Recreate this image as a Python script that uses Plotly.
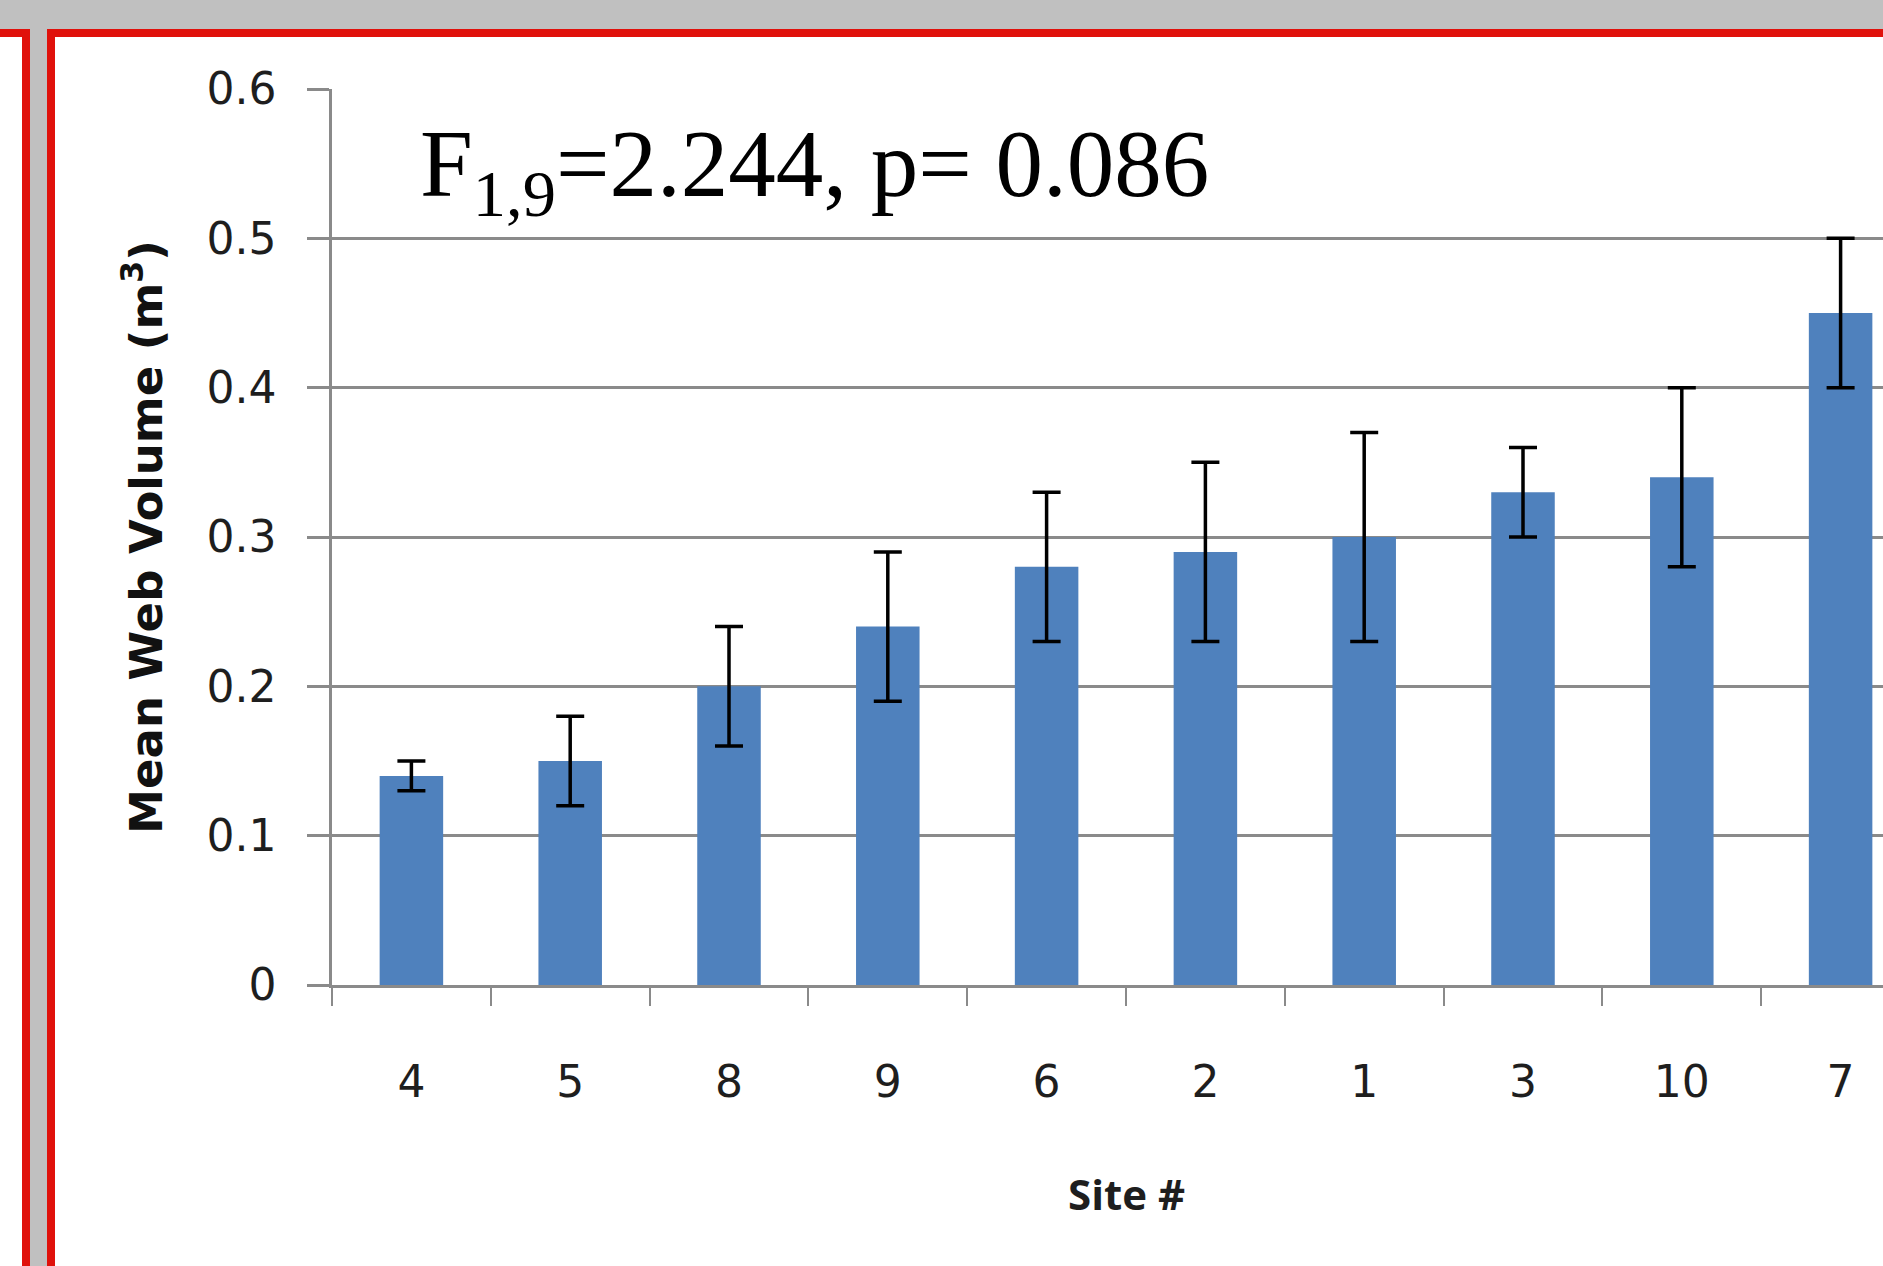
import plotly.graph_objects as go

# ---- data ----
sites = ["4", "5", "8", "9", "6", "2", "1", "3", "10", "7"]
mean_volume = [0.14, 0.15, 0.20, 0.24, 0.28, 0.29, 0.30, 0.33, 0.34, 0.45]
err_plus = [0.01, 0.03, 0.04, 0.05, 0.05, 0.06, 0.07, 0.03, 0.06, 0.05]
err_minus = [0.01, 0.03, 0.04, 0.05, 0.05, 0.06, 0.07, 0.03, 0.06, 0.05]
y_ticks = [0, 0.1, 0.2, 0.3, 0.4, 0.5, 0.6]
y_tick_labels = ["0", "0.1", "0.2", "0.3", "0.4", "0.5", "0.6"]

# ---- geometry (pixels) ----
W, H = 1883, 1266
PL, PR, PT, PB = 332, 1883, 89, 985   # plot area edges
cat_w = 158.8                          # pixel width of one category

def px(x):
    return (x - PL) / (PR - PL)

def py(y):
    return (PB - y) / (PB - PT)

fig = go.Figure(
    go.Bar(
        x=sites,
        y=mean_volume,
        width=0.4,
        marker=dict(color="#4F81BD", line=dict(width=0)),
        error_y=dict(
            type="data",
            symmetric=False,
            array=err_plus,
            arrayminus=err_minus,
            color="#000000",
            thickness=3.5,
            width=14,
        ),
    )
)

RED = "#E0110B"
GRAY_BG = "#C0C0C0"
shapes = [
    # gray background strip along the top and gray gap between panels
    dict(type="rect", xref="paper", yref="paper", x0=px(0), x1=px(W), y0=py(29), y1=py(0),
         fillcolor=GRAY_BG, line_width=0, layer="above"),
    dict(type="rect", xref="paper", yref="paper", x0=px(30), x1=px(47), y0=py(H), y1=py(0),
         fillcolor=GRAY_BG, line_width=0, layer="above"),
    # left panel red border
    dict(type="rect", xref="paper", yref="paper", x0=px(22), x1=px(30), y0=py(H), y1=py(29),
         fillcolor=RED, line_width=0, layer="above"),
    dict(type="rect", xref="paper", yref="paper", x0=px(0), x1=px(30), y0=py(37), y1=py(29),
         fillcolor=RED, line_width=0, layer="above"),
    # right panel red border
    dict(type="rect", xref="paper", yref="paper", x0=px(47), x1=px(55), y0=py(H), y1=py(29),
         fillcolor=RED, line_width=0, layer="above"),
    dict(type="rect", xref="paper", yref="paper", x0=px(47), x1=px(W), y0=py(37), y1=py(29),
         fillcolor=RED, line_width=0, layer="above"),
]

GRID = "#8A8A8A"
TXT = "#1E1E1E"
x_right = -0.5 + (PR - PL) / cat_w
full_center = PL + 5 * cat_w   # centre of the full (partly cut) category axis

fig.update_layout(
    width=W,
    height=H,
    margin=dict(l=PL, r=W - PR, t=PT, b=H - PB, pad=0),
    paper_bgcolor="white",
    plot_bgcolor="white",
    showlegend=False,
    shapes=shapes,
    xaxis=dict(
        type="category",
        range=[-0.5, x_right],
        showline=True,
        linecolor=GRID,
        linewidth=2.5,
        showgrid=False,
        ticks="outside",
        tickson="boundaries",
        ticklen=18,
        tickwidth=2,
        tickcolor=GRID,
        ticklabelstandoff=56,
        tickfont=dict(family="DejaVu Sans", size=44, color=TXT),
        automargin=False,
    ),
    yaxis=dict(
        range=[0, 0.6],
        tickvals=y_ticks,
        ticktext=y_tick_labels,
        showline=True,
        linecolor=GRID,
        linewidth=2.5,
        showgrid=True,
        gridcolor=GRID,
        gridwidth=2.5,
        zeroline=False,
        ticks="outside",
        ticklen=22,
        tickwidth=2.5,
        tickcolor=GRID,
        ticklabelstandoff=22,
        tickfont=dict(family="DejaVu Sans", size=44, color=TXT),
        title=dict(
            text="Mean Web Volume (m<sup>3</sup>)",
            font=dict(family="DejaVu Sans", size=45, color="#111111", weight="bold"),
            standoff=30,
        ),
        automargin=False,
    ),
    annotations=[
        dict(
            text="F<sub>1,9</sub>=2.244, p= 0.086",
            x=px(418),
            y=py(109),
            xref="paper",
            yref="paper",
            xanchor="left",
            yanchor="top",
            showarrow=False,
            font=dict(family="Liberation Serif", size=95, color="#000000"),
        ),
        dict(
            text="<b>Site #</b>",
            x=px(full_center),
            y=py(1193),
            xref="paper",
            yref="paper",
            xanchor="center",
            yanchor="middle",
            showarrow=False,
            font=dict(family="Open Sans", size=42, color=TXT),
        ),
    ],
)

fig.write_html(
    "out.html",
    config={"displayModeBar": False},
    post_script="document.body.style.margin='0';",
)
